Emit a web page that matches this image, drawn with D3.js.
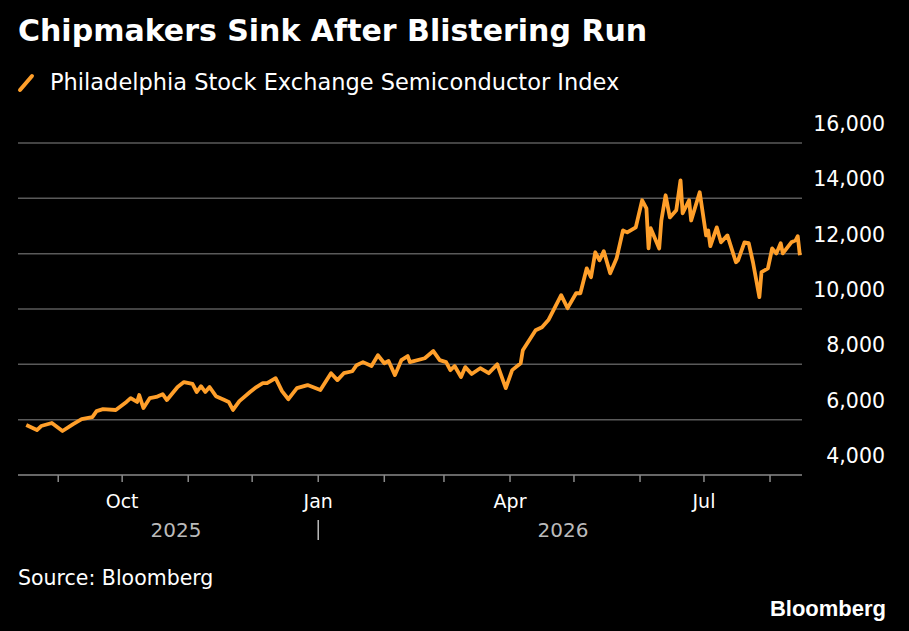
<!DOCTYPE html>
<html>
<head>
<meta charset="utf-8">
<script src="https://cdn.jsdelivr.net/npm/d3@7"></script>
<style>
  body { margin: 0; background: #000; }
  svg { display: block; font-family: "Liberation Sans", Arial, sans-serif; }
</style>
</head>
<body>
<div id="chart"></div>
<script>
// values
var dates = [
  "2025-08-17","2025-08-22","2025-08-24","2025-08-29","2025-09-03","2025-09-08","2025-09-12","2025-09-17",
  "2025-09-19","2025-09-22","2025-09-28","2025-10-03","2025-10-05","2025-10-08","2025-10-09","2025-10-11",
  "2025-10-14","2025-10-17","2025-10-20","2025-10-22","2025-10-27","2025-10-30","2025-11-03","2025-11-05",
  "2025-11-07","2025-11-09","2025-11-11","2025-11-14","2025-11-18","2025-11-20","2025-11-22","2025-11-25",
  "2025-11-30","2025-12-03","2025-12-06","2025-12-08","2025-12-12","2025-12-15","2025-12-18","2025-12-22",
  "2025-12-27","2026-01-02","2026-01-07","2026-01-10","2026-01-13","2026-01-17","2026-01-19","2026-01-22",
  "2026-01-26","2026-01-29","2026-02-01","2026-02-03","2026-02-06","2026-02-09","2026-02-12","2026-02-13",
  "2026-02-20","2026-02-24","2026-02-27","2026-03-02","2026-03-04","2026-03-06","2026-03-09","2026-03-11",
  "2026-03-14","2026-03-18","2026-03-22","2026-03-26","2026-03-30","2026-04-02","2026-04-06","2026-04-07",
  "2026-04-13","2026-04-16","2026-04-19","2026-04-25","2026-04-28","2026-05-02","2026-05-04","2026-05-07",
  "2026-05-09","2026-05-11","2026-05-13","2026-05-15","2026-05-18","2026-05-21","2026-05-24","2026-05-26",
  "2026-05-30","2026-06-02","2026-06-04","2026-06-05","2026-06-06","2026-06-10","2026-06-11","2026-06-13",
  "2026-06-15","2026-06-18","2026-06-20","2026-06-21","2026-06-24","2026-06-25","2026-06-29","2026-07-02",
  "2026-07-03","2026-07-04","2026-07-07","2026-07-09","2026-07-12","2026-07-16","2026-07-17","2026-07-20",
  "2026-07-22","2026-07-24","2026-07-27","2026-07-28","2026-07-31","2026-08-02","2026-08-04","2026-08-06",
  "2026-08-07","2026-08-11","2026-08-13","2026-08-14","2026-08-15"
];
var values = [
  5805,5625,5770,5880,5590,5840,6020,6090,
  6310,6380,6350,6640,6780,6640,6890,6420,
  6780,6820,6920,6710,7180,7360,7290,7000,
  7210,7000,7180,6850,6710,6640,6350,6670,
  7000,7180,7320,7320,7500,7030,6740,7140,
  7250,7070,7680,7430,7680,7750,7970,8080,
  7940,8330,8040,8120,7610,8150,8300,8080,
  8220,8480,8150,8080,7790,7940,7540,7900,
  7650,7860,7680,8000,7140,7790,8040,8510,
  9230,9340,9600,10500,10030,10570,10570,11470,
  11150,12050,11760,12090,11290,11830,12840,12770,
  12950,13930,13640,12190,12920,12190,13200,14110,
  13310,13570,14650,13460,13930,13200,14220,12660,
  12840,12270,12950,12410,12660,11690,11760,12410,
  12380,11690,10430,11330,11470,12190,12010,12380,
  12010,12410,12480,12630,11940
];
var yTicks = [4000, 6000, 8000, 10000, 12000, 14000, 16000];
var monthTicks = ["2025-09-01","2025-10-01","2025-11-01","2025-12-01","2026-01-01","2026-02-01",
  "2026-03-01","2026-04-01","2026-05-01","2026-06-01","2026-07-01","2026-08-01"];
var labelTicks = ["2025-10-01","2026-01-01","2026-04-01","2026-07-01"];

var parse = d3.timeParse("%Y-%m-%d");
var data = dates.map(function (d, i) { return { date: parse(d), value: values[i] }; });

var W = 909, H = 631;
var svg = d3.select("#chart").append("svg").attr("width", W).attr("height", H)
  .style("background-color", "#000");

var x = d3.scaleTime().domain([parse("2025-08-15"), parse("2026-08-16")]).range([22, 802]);
var y = d3.scaleLinear().domain([4000, 16000]).range([475, 143]);

svg.append("text").attr("x", 18).attr("y", 41).attr("fill", "#fff")
  .attr("font-size", 30).attr("font-weight", "bold").attr("font-family", "DejaVu Sans")
  .text("Chipmakers Sink After Blistering Run");

svg.append("line").attr("x1", 20).attr("y1", 90).attr("x2", 32).attr("y2", 76)
  .attr("stroke", "#ff9f2a").attr("stroke-width", 4).attr("stroke-linecap", "round");
svg.append("text").attr("x", 50).attr("y", 90).attr("fill", "#fff")
  .attr("font-size", 22.5).attr("font-family", "DejaVu Sans")
  .text("Philadelphia Stock Exchange Semiconductor Index");

// grid
svg.append("g").selectAll("line").data(yTicks.slice(1)).join("line")
  .attr("x1", 18).attr("x2", 802).attr("y1", y).attr("y2", y)
  .attr("stroke", "#5a5a5a").attr("stroke-width", 1.5);

svg.append("g").selectAll("text").data(yTicks).join("text")
  .attr("x", 885).attr("y", function (d) { return y(d) - 12; })
  .attr("text-anchor", "end").attr("fill", "#fff").attr("font-size", 20.5)
  .attr("font-family", "DejaVu Sans")
  .text(d3.format(","));

// x axis
svg.append("line").attr("x1", 18).attr("x2", 802).attr("y1", 475).attr("y2", 475)
  .attr("stroke", "#8a8a8a").attr("stroke-width", 1.5);
svg.append("g").selectAll("line").data(monthTicks.map(parse)).join("line")
  .attr("x1", x).attr("x2", x).attr("y1", 475).attr("y2", 482)
  .attr("stroke", "#8a8a8a").attr("stroke-width", 1.5);

svg.append("g").selectAll("text").data(labelTicks.map(parse)).join("text")
  .attr("x", x).attr("y", 508).attr("text-anchor", "middle").attr("fill", "#fff")
  .attr("font-size", 19).attr("font-family", "DejaVu Sans")
  .text(d3.timeFormat("%b"));

svg.append("text").attr("x", 176).attr("y", 537).attr("text-anchor", "middle")
  .attr("fill", "#bbb").attr("font-size", 20).attr("font-family", "DejaVu Sans").text("2025");
svg.append("text").attr("x", 563).attr("y", 537).attr("text-anchor", "middle")
  .attr("fill", "#bbb").attr("font-size", 20).attr("font-family", "DejaVu Sans").text("2026");
svg.append("line").attr("x1", x(parse("2026-01-01"))).attr("x2", x(parse("2026-01-01")))
  .attr("y1", 520).attr("y2", 540).attr("stroke", "#bbb").attr("stroke-width", 1.5);

// line
svg.append("path").datum(data)
  .attr("d", d3.line().x(function (d) { return x(d.date); }).y(function (d) { return y(d.value); }))
  .attr("fill", "none").attr("stroke", "#ff9f2a").attr("stroke-width", 3.8)
  .attr("stroke-linejoin", "round");

svg.append("text").attr("x", 18).attr("y", 585).attr("fill", "#fff")
  .attr("font-size", 20.5).attr("font-family", "DejaVu Sans").text("Source: Bloomberg");
svg.append("text").attr("x", 886).attr("y", 616).attr("text-anchor", "end").attr("fill", "#fff")
  .attr("font-size", 22).attr("font-weight", "bold").text("Bloomberg");
</script>
</body>
</html>
